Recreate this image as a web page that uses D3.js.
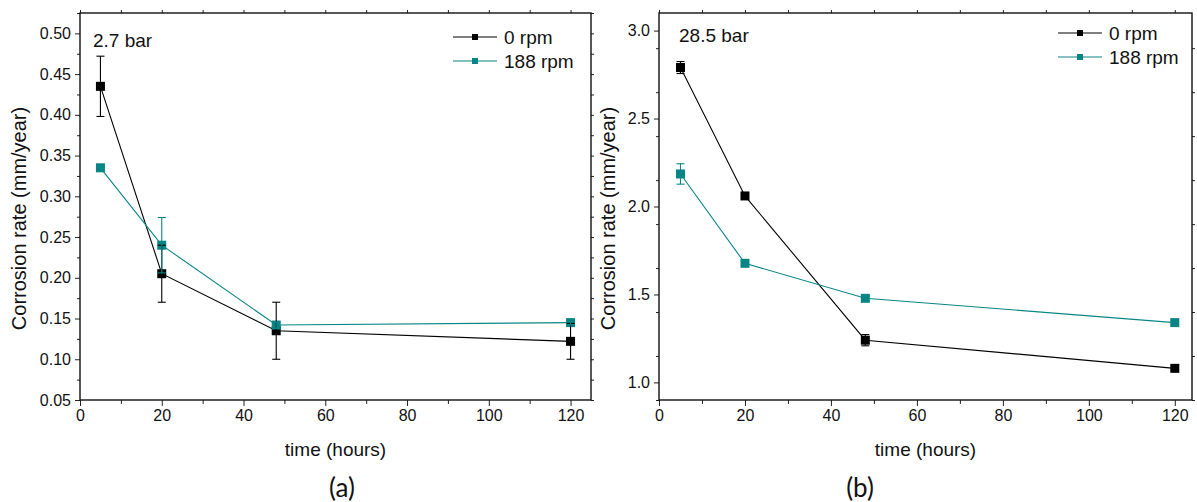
<!DOCTYPE html>
<html>
<head>
<meta charset="utf-8">
<script src="https://cdn.jsdelivr.net/npm/d3@7"></script>
<style>
  body { margin: 0; background: #fff; }
  svg text { font-family: "Liberation Sans", Arial, sans-serif; fill: #111; }
</style>
</head>
<body>
<svg id="fig" width="1197" height="502"></svg>
<script>
// Sampling times (hours)
const times = [5, 20, 48, 120];

// Panel (a): 2.7 bar
const rateA0 = [0.435, 0.205, 0.135, 0.122];
const errA0 = [0.037, 0.035, 0.035, 0.022];
const rateA188 = [0.335, 0.240, 0.142, 0.145];
const errA188 = [0.003, 0.034, 0.004, 0.003];

// Panel (b): 28.5 bar
const rateB0 = [2.79, 2.06, 1.24, 1.08];
const errB0 = [0.034, 0.012, 0.032, 0.010];
const rateB188 = [2.185, 1.677, 1.478, 1.340];
const errB188 = [0.058, 0.010, 0.010, 0.010];

const seriesNames = ["0 rpm", "188 rpm"];
const seriesColors = ["#000000", "#0a8585"];

const xTicksMajor = [0, 20, 40, 60, 80, 100, 120];
const yTicksA = [0.05, 0.10, 0.15, 0.20, 0.25, 0.30, 0.35, 0.40, 0.45, 0.50];
const yTicksB = [1.0, 1.5, 2.0, 2.5, 3.0];

const panels = [
  {
    box: { left: 80, right: 591, top: 13, bottom: 400 },
    xDomain: [0, 125], yDomain: [0.05, 0.525],
    yTicks: yTicksA, yMinorStep: 0.025, yFmt: d3.format(".2f"),
    series: [
      { values: rateA0, errors: errA0 },
      { values: rateA188, errors: errA188 }
    ],
    note: "2.7 bar", noteX: 93, noteY: 47,
    legendX: 453, legendY: 37,
    tag: "(a)", tagX: 342, titleX: 19
  },
  {
    box: { left: 659, right: 1192, top: 13, bottom: 400 },
    xDomain: [0, 124], yDomain: [0.9, 3.1],
    yTicks: yTicksB, yMinorStep: 0.25, yFmt: d3.format(".1f"),
    series: [
      { values: rateB0, errors: errB0 },
      { values: rateB188, errors: errB188 }
    ],
    note: "28.5 bar", noteX: 679, noteY: 42,
    legendX: 1058, legendY: 33,
    tag: "(b)", tagX: 860, titleX: 608
  }
];

const svg = d3.select("#fig");

function range(start, stop, step) {
  const out = [];
  for (let v = start; v <= stop + 1e-9; v += step) out.push(+v.toFixed(6));
  return out;
}

panels.forEach(p => {
  const b = p.box;
  const x = d3.scaleLinear().domain(p.xDomain).range([b.left, b.right]);
  const y = d3.scaleLinear().domain(p.yDomain).range([b.bottom, b.top]);
  const g = svg.append("g");

  const xMinor = range(10, p.xDomain[1], 20);
  const yMinor = range(p.yDomain[0], p.yDomain[1], p.yMinorStep)
    .filter(v => !p.yTicks.some(t => Math.abs(t - v) < 1e-6));
  const yAll = range(p.yDomain[0], p.yDomain[1], p.yMinorStep);

  // bottom axis
  const bx = g.append("g").attr("transform", `translate(0,${b.bottom})`)
    .call(d3.axisBottom(x).tickValues(xTicksMajor).tickSize(6).tickPadding(4).tickFormat(d3.format("d")));
  bx.append("g").call(d3.axisBottom(x).tickValues(xMinor).tickSize(4).tickFormat(""));
  // left axis
  const ly = g.append("g").attr("transform", `translate(${b.left},0)`)
    .call(d3.axisLeft(y).tickValues(p.yTicks).tickSize(5).tickPadding(4).tickFormat(p.yFmt));
  ly.append("g").call(d3.axisLeft(y).tickValues(yMinor).tickSize(3).tickFormat(""));
  // top and right ticks
  g.append("g").attr("transform", `translate(0,${b.top})`)
    .call(d3.axisTop(x).tickValues(range(0, p.xDomain[1], 10)).tickSize(3).tickFormat(""));
  g.append("g").attr("transform", `translate(${b.right},0)`)
    .call(d3.axisRight(y).tickValues(yAll).tickSize(3).tickFormat(""));

  g.selectAll(".domain").remove();
  g.selectAll(".tick line").attr("stroke", "#222").attr("stroke-width", 1);
  g.selectAll(".tick text").style("font-size", "16px").attr("fill", "#111")
    .style("font-family", "'Liberation Sans', Arial, sans-serif");

  // frame
  g.append("rect")
    .attr("x", b.left).attr("y", b.top)
    .attr("width", b.right - b.left).attr("height", b.bottom - b.top)
    .attr("fill", "none").attr("stroke", "#111").attr("stroke-width", 1.4);

  // lines and markers
  p.series.forEach((s, i) => {
    const pts = times.map((t, k) => [t, s.values[k]]);
    g.append("path")
      .attr("d", d3.line().x(d => x(d[0])).y(d => y(d[1]))(pts))
      .attr("fill", "none").attr("stroke", seriesColors[i]).attr("stroke-width", 1.1);
  });
  p.series.forEach((s, i) => {
    g.selectAll(null).data(times.map((t, k) => [t, s.values[k]])).enter()
      .append("rect")
      .attr("x", d => x(d[0]) - 4.5).attr("y", d => y(d[1]) - 4.5)
      .attr("width", 9).attr("height", 9)
      .attr("fill", seriesColors[i]);
  });
  // error bars
  p.series.forEach((s, i) => {
    const eg = g.append("g").attr("stroke", seriesColors[i]).attr("stroke-width", 1.1);
    times.forEach((t, k) => {
      const cx = x(t), y1 = y(s.values[k] + s.errors[k]), y2 = y(s.values[k] - s.errors[k]);
      eg.append("line").attr("x1", cx).attr("x2", cx).attr("y1", y1).attr("y2", y2);
      eg.append("line").attr("x1", cx - 4).attr("x2", cx + 4).attr("y1", y1).attr("y2", y1);
      eg.append("line").attr("x1", cx - 4).attr("x2", cx + 4).attr("y1", y2).attr("y2", y2);
    });
  });

  // pressure note
  g.append("text").attr("x", p.noteX).attr("y", p.noteY)
    .style("font-size", "19px").text(p.note);

  // legend
  seriesNames.forEach((name, i) => {
    const ly0 = p.legendY + i * 24;
    g.append("line").attr("x1", p.legendX).attr("x2", p.legendX + 44)
      .attr("y1", ly0).attr("y2", ly0)
      .attr("stroke", seriesColors[i]).attr("stroke-width", 1.1);
    g.append("rect").attr("x", p.legendX + 19).attr("y", ly0 - 3).attr("width", 6).attr("height", 6)
      .attr("fill", seriesColors[i]);
    g.append("text").attr("x", p.legendX + 51).attr("y", ly0 + 6.5)
      .style("font-size", "19px").text(name);
  });

  // axis titles
  g.append("text").attr("x", (b.left + b.right) / 2).attr("y", 456)
    .attr("text-anchor", "middle").style("font-size", "19px").text("time (hours)");
  g.append("text")
    .attr("transform", `translate(${p.titleX + 7},${(b.top + b.bottom) / 2 + 12}) rotate(-90)`)
    .attr("text-anchor", "middle").style("font-size", "20px").text("Corrosion rate (mm/year)");

  // panel tag
  g.append("text").attr("x", p.tagX).attr("y", 497)
    .attr("text-anchor", "middle")
    .style("font-family", "Lato, 'Open Sans', sans-serif").style("font-size", "26px")
    .text(p.tag);
});
</script>
</body>
</html>
